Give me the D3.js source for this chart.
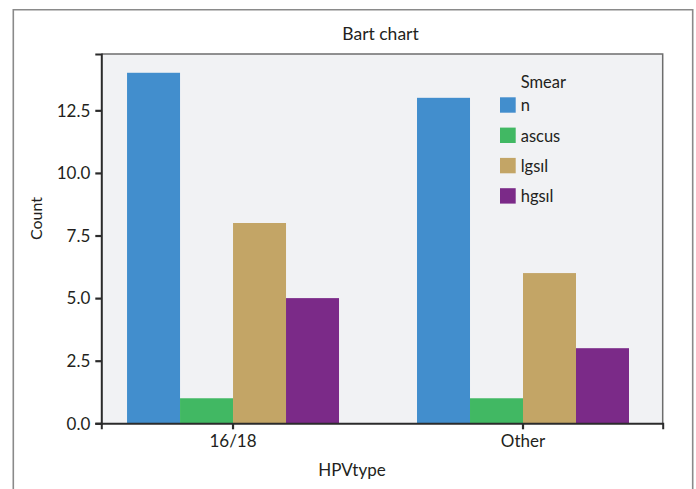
<!DOCTYPE html>
<html>
<head>
<meta charset="utf-8">
<script src="https://cdn.jsdelivr.net/npm/d3@7/dist/d3.min.js"></script>
<style>
  html, body { margin: 0; padding: 0; background: #fff; }
  svg { display: block; }
  text { font-family: Lato, "Open Sans", sans-serif; fill: #231f20; }
</style>
</head>
<body>
<svg id="chart" width="696" height="489"></svg>
<script>
const categories = ["16/18", "Other"];
const series = ["n", "ascus", "lgsıl", "hgsıl"];
const values_n = [14, 13];
const values_ascus = [1, 1];
const values_lgsil = [8, 6];
const values_hgsil = [5, 3];
const yTicks = [0, 2.5, 5, 7.5, 10, 12.5];
const colors = ["#428ecd", "#41b863", "#c3a566", "#7b2a88"];
const title = "Bart chart";
const xTitle = "HPVtype";
const yTitle = "Count";
const legendTitle = "Smear";

const seriesValues = [values_n, values_ascus, values_lgsil, values_hgsil];
const data = [];
categories.forEach((c, i) => series.forEach((s, j) => data.push({cat: c, ser: s, val: seriesValues[j][i]})));

const svg = d3.select("#chart");
const P = {left: 101.3, right: 662.7, top: 54, bottom: 423.3};

// outer frame
svg.append("path").attr("d", "M13.3,489 V9.8 H692.7 V489")
  .attr("fill", "none").attr("stroke", "#8a8a8a").attr("stroke-width", 1.6);

// panel
svg.append("rect").attr("x", P.left).attr("y", P.top)
  .attr("width", P.right - P.left).attr("height", P.bottom - P.top)
  .attr("fill", "#f1f2f4");

const x = d3.scaleBand().domain(categories).range([P.left, P.right])
  .paddingInner(0.269).paddingOuter(0.1025).align(0.433);
const xs = d3.scaleBand().domain(series).range([0, x.bandwidth()]).padding(0);
const y = d3.scaleLinear().domain([0, 14.75]).range([P.bottom, P.top]);
const color = d3.scaleOrdinal().domain(series).range(colors);

svg.append("g").selectAll("rect").data(data).join("rect")
  .attr("x", d => x(d.cat) + xs(d.ser))
  .attr("y", d => y(d.val))
  .attr("width", xs.bandwidth())
  .attr("height", d => y(0) - y(d.val))
  .attr("fill", d => color(d.ser));

// top/right panel border
svg.append("path").attr("d", `M${P.left},${P.top} H${P.right} V${P.bottom}`)
  .attr("fill", "none").attr("stroke", "#6d6d6d").attr("stroke-width", 1.5);

// y axis
const yAxis = svg.append("g").attr("transform", `translate(${P.left},0)`)
  .call(d3.axisLeft(y).tickValues(yTicks).tickFormat(d3.format(".1f")).tickSize(6).tickPadding(5));
// x axis
const xAxis = svg.append("g").attr("transform", `translate(0,${P.bottom})`)
  .call(d3.axisBottom(x).tickSize(6).tickPadding(6));

[yAxis, xAxis].forEach(g => {
  g.select(".domain").attr("stroke", "#2b2b2b").attr("stroke-width", 2);
  g.selectAll(".tick line").attr("stroke", "#2b2b2b").attr("stroke-width", 2.2);
  g.selectAll(".tick text").attr("font-family", "Lato, 'Open Sans', sans-serif")
    .attr("font-size", 17).attr("fill", "#231f20");
});
yAxis.selectAll(".tick text").attr("dy", "0.34em");

// titles
svg.append("text").attr("x", 380.5).attr("y", 39.5).attr("text-anchor", "middle")
  .attr("font-size", 17.5).text(title);
svg.append("text").attr("x", 352).attr("y", 476).attr("text-anchor", "middle")
  .attr("font-size", 17).text(xTitle);
svg.append("text").attr("transform", "translate(42,218.5) rotate(-90)")
  .attr("text-anchor", "middle").attr("font-size", 16).text(yTitle);

// legend
const lg = svg.append("g");
lg.append("text").attr("x", 520.7).attr("y", 88).attr("font-size", 16.5).text(legendTitle);
const items = lg.selectAll("g.item").data(series).join("g")
  .attr("transform", (d, i) => `translate(500,${97.3 + i * 30.3})`);
items.append("rect").attr("width", 15.7).attr("height", 15.4).attr("fill", d => color(d));
items.append("text").attr("x", 20.7).attr("y", 14).attr("font-size", 16.5).text(d => d);
</script>
</body>
</html>
